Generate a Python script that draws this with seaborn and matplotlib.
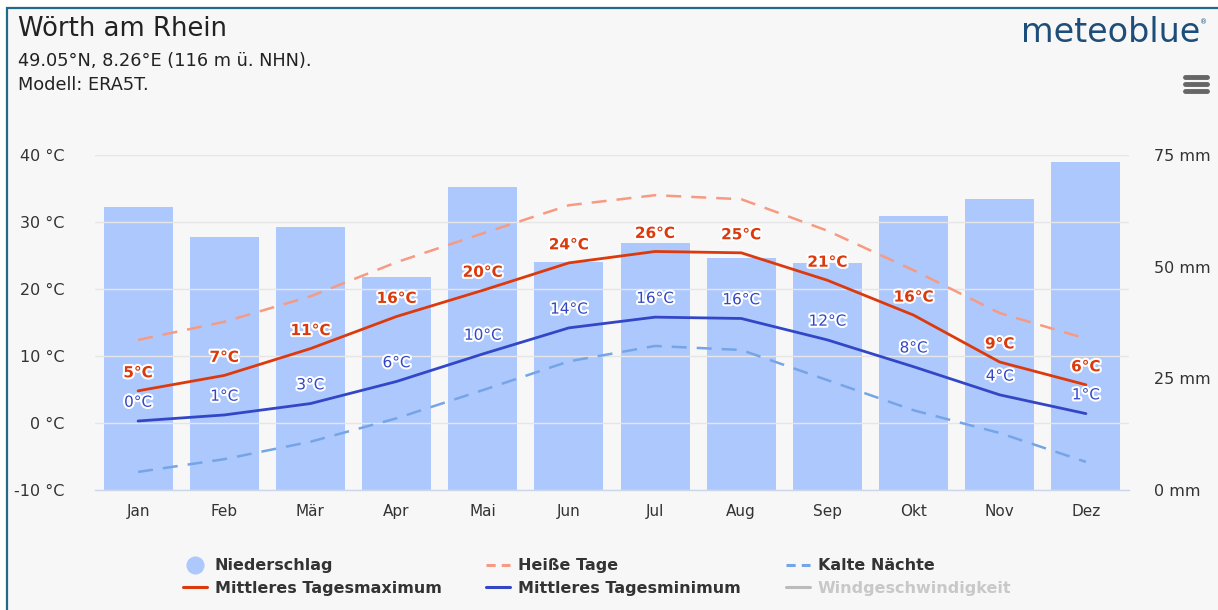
import matplotlib
matplotlib.use("Agg")
import matplotlib.pyplot as plt
import matplotlib.patheffects as pe
from matplotlib.lines import Line2D
from matplotlib.patches import Rectangle
import seaborn as sns
import pandas as pd
import numpy as np

sns.set_theme(style="white")
plt.rcParams['font.family'] = ['DejaVu Sans']

# values
months = ['Jan', 'Feb', 'Mär', 'Apr', 'Mai', 'Jun', 'Jul', 'Aug', 'Sep', 'Okt', 'Nov', 'Dez']
precip_mm = [63.4, 56.6, 58.9, 47.7, 67.8, 51.0, 55.3, 51.9, 50.8, 61.3, 65.1, 73.4]
temp_max = [4.8, 7.1, 11.1, 15.9, 19.8, 23.9, 25.6, 25.4, 21.3, 16.1, 9.1, 5.7]
temp_min = [0.3, 1.2, 2.9, 6.2, 10.3, 14.2, 15.8, 15.6, 12.4, 8.4, 4.2, 1.4]
hot_days = [12.4, 15.1, 18.9, 24.0, 28.3, 32.5, 34.0, 33.4, 28.7, 22.8, 16.4, 12.6]
cold_nights = [-7.3, -5.4, -2.8, 0.7, 4.9, 9.2, 11.5, 10.9, 6.4, 1.9, -1.5, -5.8]

temp_ticks = [-10, 0, 10, 20, 30, 40]
precip_ticks = [0, 25, 50, 75]

df = pd.DataFrame({'month': months, 'idx': np.arange(len(months)), 'precip': precip_mm,
                   'tmax': temp_max, 'tmin': temp_min, 'hot': hot_days, 'cold': cold_nights})

c_bar = '#adc8fd'
c_max = '#dc3a0c'
c_min = '#3347c6'
c_hot = '#f79a82'
c_cold = '#75a5e6'
c_text = '#333333'

W, H = 1218, 610
fig = plt.figure(figsize=(W / 100, H / 100), dpi=100)
fig.patch.set_facecolor('white')
fig.add_artist(Rectangle((7 / W, -0.05), 1.1, 1 - 8 / H + 0.05, transform=fig.transFigure,
                         facecolor='#f7f7f7', edgecolor='#22698c', linewidth=1.6, zorder=-10))

ax = fig.add_axes([95 / W, 120 / H, (1129 - 95) / W, 335 / H])
axp = ax.twinx()

# precipitation bars on the right axis
sns.barplot(data=df, x='month', y='precip', ax=axp, color=c_bar, saturation=1,
            width=0.8, edgecolor='none', linewidth=0)
axp.set_ylim(0, 75)
axp.set_yticks(precip_ticks)
axp.set_yticklabels([f'{v} mm' for v in precip_ticks], fontsize=11.5, color=c_text)
axp.set_ylabel('')
axp.tick_params(axis='y', length=0, pad=18)

ax.set_zorder(axp.get_zorder() + 1)
ax.patch.set_visible(False)
axp.patch.set_visible(False)

dash = (0, (6, 4))
sns.lineplot(data=df, x='idx', y='hot', ax=ax, color=c_hot, linewidth=1.8, linestyle=dash)
sns.lineplot(data=df, x='idx', y='cold', ax=ax, color=c_cold, linewidth=1.8, linestyle=dash)
sns.lineplot(data=df, x='idx', y='tmax', ax=ax, color=c_max, linewidth=2.0)
sns.lineplot(data=df, x='idx', y='tmin', ax=ax, color=c_min, linewidth=2.0)

outline = [pe.withStroke(linewidth=3, foreground='white')]
for i, (hi, lo) in enumerate(zip(temp_max, temp_min)):
    ax.annotate(f'{hi:.0f}°C', (i, hi), xytext=(0, 13), textcoords='offset points',
                ha='center', va='center', fontsize=11, fontweight='bold', color=c_max,
                path_effects=outline)
    ax.annotate(f'{lo:.0f}°C', (i, lo), xytext=(0, 13.5), textcoords='offset points',
                ha='center', va='center', fontsize=11, color=c_min,
                path_effects=outline)

ax.set_xlim(-0.5, 11.5)
ax.set_ylim(-10, 40)
ax.set_yticks(temp_ticks)
ax.set_yticklabels([f'{v} °C' for v in temp_ticks], fontsize=11.5, color=c_text)
ax.set_xticks(range(len(months)))
ax.set_xticklabels(months, fontsize=11, color=c_text)
ax.tick_params(axis='y', length=0, pad=22)
ax.tick_params(axis='x', length=0, pad=10)
ax.set_xlabel('')
ax.set_ylabel('')
ax.yaxis.grid(True, color='#e6e6e6', linewidth=1)
ax.xaxis.grid(False)
for s in ['top', 'left', 'right']:
    ax.spines[s].set_visible(False)
    axp.spines[s].set_visible(False)
axp.spines['bottom'].set_visible(False)
ax.spines['bottom'].set_color('#ccd6eb')
ax.spines['bottom'].set_linewidth(1)

# legend, filled column by column so that rows read like the original
handles = [
    Line2D([], [], marker='o', linestyle='none', markersize=12, color=c_bar),
    Line2D([], [], color=c_max, linewidth=2.2),
    Line2D([], [], color=c_hot, linewidth=2.2, linestyle=(0, (3, 2))),
    Line2D([], [], color=c_min, linewidth=2.2),
    Line2D([], [], color=c_cold, linewidth=2.2, linestyle=(0, (3, 2))),
    Line2D([], [], color='#bbbbbb', linewidth=2.2),
]
labels = ['Niederschlag', 'Mittleres Tagesmaximum', 'Heiße Tage',
          'Mittleres Tagesminimum', 'Kalte Nächte', 'Windgeschwindigkeit']
leg = fig.legend(handles, labels, ncol=3, loc='center', bbox_to_anchor=(597 / W, 1 - 577 / H),
                 frameon=False, prop={'size': 11.5, 'weight': 'bold'}, handlelength=1.5,
                 handletextpad=0.5, columnspacing=2.8, labelspacing=0.45, labelcolor=c_text)
leg.get_texts()[-1].set_color('#c8c8c8')

fig.text(18 / W, 1 - 29 / H, 'Wörth am Rhein', fontsize=18.6, color='#222222', va='center')
fig.text(18 / W, 1 - 61 / H, '49.05°N, 8.26°E (116 m ü. NHN).', fontsize=12.8, color='#222222', va='center')
fig.text(18 / W, 1 - 85 / H, 'Modell: ERA5T.', fontsize=12.8, color='#222222', va='center')

fig.text(1200 / W, 1 - 33 / H, 'meteoblue', fontsize=24, color='#1d4d79', ha='right', va='center',
         fontweight='medium')
fig.text(1204 / W, 1 - 22 / H, '®', fontsize=5, color='#1d4d79', ha='center', va='center')
for yy in [77, 84, 91]:
    fig.add_artist(Line2D([1185 / W, 1207 / W], [1 - yy / H, 1 - yy / H], transform=fig.transFigure,
                          color='#666666', linewidth=3.5, solid_capstyle='round'))

fig.savefig('out.png', dpi=100, facecolor=fig.get_facecolor())
